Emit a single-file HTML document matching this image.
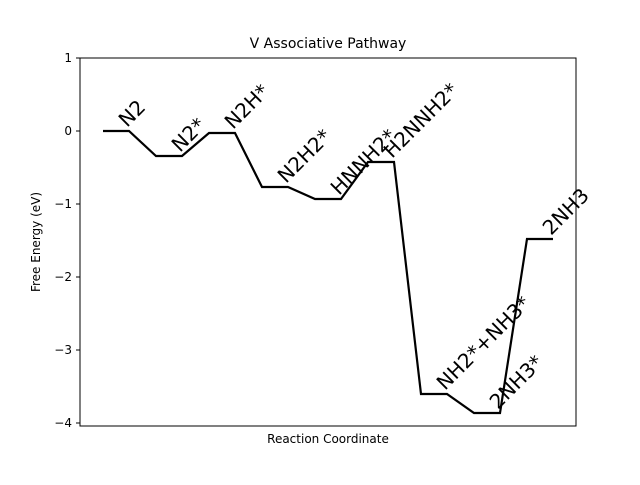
<!DOCTYPE html>
<html><head><meta charset="utf-8"><style>body{margin:0;background:#fff}</style></head><body>
<svg width="640" height="480" xmlns="http://www.w3.org/2000/svg" font-family="DejaVu Sans, Liberation Sans, sans-serif">
<rect width="640" height="480" fill="#fff"/>
<rect x="80" y="58" width="496" height="368" fill="none" stroke="#000" stroke-width="1"/>
<g stroke="#000" stroke-width="1">
<line x1="76" y1="58" x2="80" y2="58"/><line x1="76" y1="131" x2="80" y2="131"/><line x1="76" y1="204" x2="80" y2="204"/><line x1="76" y1="277" x2="80" y2="277"/><line x1="76" y1="350" x2="80" y2="350"/><line x1="76" y1="423" x2="80" y2="423"/>
</g>
<g font-size="12" text-anchor="end" fill="#000">
<text x="72" y="62">1</text><text x="72" y="135">0</text><text x="72" y="208">−1</text><text x="72" y="281">−2</text><text x="72" y="354">−3</text><text x="72" y="427">−4</text>
</g>
<text x="328" y="48" font-size="14" text-anchor="middle">V Associative Pathway</text>
<text x="328" y="443" font-size="12" text-anchor="middle">Reaction Coordinate</text>
<text transform="translate(40,242) rotate(-90)" font-size="12" text-anchor="middle">Free Energy (eV)</text>
<polyline fill="none" stroke="#000" stroke-width="2.2" points="103,131 129,131 156,156 182,156 209,133 235,133 262,187 288,187 315,199 341,199 368,162 394,162 421,394 447,394 474,413 500,413 527,239 553,239"/>
<g font-size="20" fill="#000">
<text transform="translate(127,128) rotate(-45)">N2</text>
<text transform="translate(180,153) rotate(-45)">N2*</text>
<text transform="translate(233,130) rotate(-45)">N2H*</text>
<text transform="translate(286,184) rotate(-45)">N2H2*</text>
<text transform="translate(339,196) rotate(-45)">HNNH2*</text>
<text transform="translate(392,159) rotate(-45)">H2NNH2*</text>
<text transform="translate(445,391) rotate(-45)">NH2*+NH3*</text>
<text transform="translate(498,410) rotate(-45)">2NH3*</text>
<text transform="translate(551,236) rotate(-45)">2NH3</text>
</g>
</svg>
</body></html>
